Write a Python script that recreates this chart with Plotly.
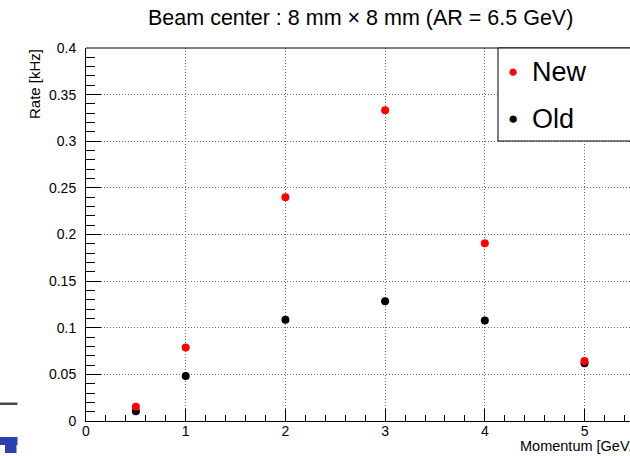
import plotly.graph_objects as go

momentum = [0.5, 1, 2, 3, 4, 5]
rate_new = [0.0154, 0.0787, 0.240, 0.3332, 0.1906, 0.0643]
rate_old = [0.0104, 0.0483, 0.1087, 0.1284, 0.1077, 0.0619]
series_names = ["New", "Old"]
series_colors = ["#ff0000", "#000000"]

W, H = 630, 456
L, R, T, B = 86, 0, 48, 35
PW, PH = W - L - R, H - T - B
FONT = "Liberation Sans, Arial, Helvetica, sans-serif"

def px(x):
    return (x - L) / PW

def py(y):
    return (H - B - y) / PH

fig = go.Figure()
fig.add_trace(go.Scatter(x=momentum, y=rate_old, mode="markers", name=series_names[1],
                         marker=dict(color=series_colors[1], size=8), showlegend=False))
fig.add_trace(go.Scatter(x=momentum, y=rate_new, mode="markers", name=series_names[0],
                         marker=dict(color=series_colors[0], size=8), showlegend=False))

axis_common = dict(showline=True, linecolor="black", linewidth=1, ticks="inside",
                   tickcolor="black", showgrid=True, gridcolor="#6a6a6a", griddash="1px,2px",
                   gridwidth=1, zeroline=False, tickfont=dict(family=FONT, size=14, color="black"))

fig.update_xaxes(range=[0, 5.456], dtick=1, tick0=0, ticklen=12,
                 minor=dict(dtick=0.2, ticks="inside", ticklen=6, tickcolor="black", showgrid=False),
                 ticklabelstandoff=-3, **axis_common)
fig.update_yaxes(range=[0, 0.4], dtick=0.05, tick0=0, ticklen=15, tickformat="~g",
                 minor=dict(dtick=0.01, ticks="inside", ticklen=9, tickcolor="black", showgrid=False),
                 ticklabelstandoff=6, **axis_common)

shapes = [
    # top frame
    dict(type="line", xref="paper", yref="paper", x0=0, x1=1.05, y0=1, y1=1,
         line=dict(color="black", width=1)),
    # legend box
    dict(type="rect", xref="paper", yref="paper", x0=px(498), x1=px(650), y0=py(141), y1=py(48),
         line=dict(color="black", width=1), fillcolor="white", layer="above"),
    # slide artifacts at bottom-left
    dict(type="rect", xref="paper", yref="paper", x0=px(0), x1=px(17.5), y0=py(405), y1=py(402.5),
         line=dict(width=0), fillcolor="#4a4a4a"),
    dict(type="rect", xref="paper", yref="paper", x0=px(0), x1=px(17.5), y0=py(445), y1=py(437),
         line=dict(width=0), fillcolor="#2b3fae"),
    dict(type="rect", xref="paper", yref="paper", x0=px(5), x1=px(16.5), y0=py(453), y1=py(445),
         line=dict(width=0), fillcolor="#2b3fae"),
]

annotations = [
    dict(text="Beam center : 8 mm \u00d7 8 mm (AR = 6.5 GeV)", xref="paper", yref="paper",
         x=px(360), y=py(18), xanchor="center", yanchor="middle", showarrow=False,
         font=dict(family=FONT, size=21.5, color="black")),
    dict(text="Rate [kHz]", xref="paper", yref="paper", x=px(34), y=py(47),
         xanchor="center", yanchor="top", textangle=-90, showarrow=False,
         font=dict(family=FONT, size=15, color="black")),
    dict(text="Momentum [GeV/c]", xref="paper", yref="paper", x=px(518), y=py(446),
         xanchor="left", yanchor="middle", showarrow=False,
         font=dict(family=FONT, size=14.5, color="black")),
    dict(text="\u25cf", xref="paper", yref="paper", x=px(513), y=py(71), xanchor="center",
         yanchor="middle", showarrow=False, font=dict(family=FONT, size=17, color=series_colors[0])),
    dict(text="\u25cf", xref="paper", yref="paper", x=px(513), y=py(118), xanchor="center",
         yanchor="middle", showarrow=False, font=dict(family=FONT, size=17, color=series_colors[1])),
    dict(text=series_names[0], xref="paper", yref="paper", x=px(530), y=py(72), xanchor="left",
         yanchor="middle", showarrow=False, font=dict(family=FONT, size=27, color="black")),
    dict(text=series_names[1], xref="paper", yref="paper", x=px(530), y=py(119), xanchor="left",
         yanchor="middle", showarrow=False, font=dict(family=FONT, size=27, color="black")),
]

fig.update_layout(width=W, height=H, margin=dict(l=L, r=R, t=T, b=B, pad=0),
                  paper_bgcolor="white", plot_bgcolor="white",
                  shapes=shapes, annotations=annotations, showlegend=False)

fig.write_html("out.html")
